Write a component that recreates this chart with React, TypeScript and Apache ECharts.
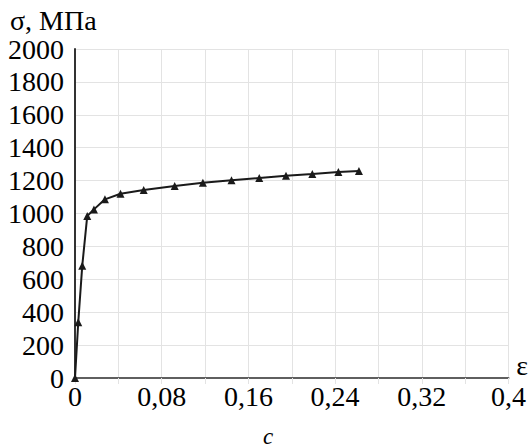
import React, { useEffect, useRef } from "react";
import * as echarts from "echarts";

const strain = [0, 0.003, 0.0067, 0.0113, 0.0175, 0.0276, 0.042, 0.0634, 0.092, 0.118, 0.1444, 0.17, 0.1947, 0.219, 0.243, 0.262];
const stress = [0, 339, 683, 985, 1025, 1086, 1120, 1143, 1167, 1187, 1202, 1216, 1230, 1240, 1252, 1258];
const xTicks = [0, 0.08, 0.16, 0.24, 0.32, 0.4];
const FONT = "Liberation Serif";

export default function App() {
  const ref = useRef<HTMLDivElement>(null);
  useEffect(() => {
    const chart = echarts.init(ref.current!, null, { renderer: "svg" });
    const fmtX = (v: number) => {
      const hit = xTicks.find((t) => Math.abs(t - v) < 1e-6);
      if (hit === undefined) return "";
      return "{a|" + String(Number(hit.toFixed(2))).replace(".", ",") + "}";
    };
    const rich = { a: { fontFamily: FONT, fontSize: 28, color: "#000" } };
    chart.setOption({
      animation: false,
      backgroundColor: "#fff",
      textStyle: { fontFamily: FONT, fontSize: 28, color: "#000" },
      grid: { left: 75, right: 19, top: 49, bottom: 70, containLabel: false },
      xAxis: {
        type: "value",
        min: 0,
        max: 0.4,
        interval: 0.04,
        axisLine: { show: true, onZero: false, lineStyle: { color: "#5f5f5f", width: 2 } },
        axisTick: { show: true, length: 6, lineStyle: { color: "#e3e3e3" } },
        splitLine: { show: true, lineStyle: { color: "#e3e3e3", width: 1 } },
        axisLabel: {
          formatter: fmtX,
          rich,
          color: "#000",
          fontFamily: FONT,
          fontSize: 28,
          margin: 4,
          showMaxLabel: true,
          showMinLabel: true,
        },
      },
      yAxis: {
        type: "value",
        min: 0,
        max: 2000,
        interval: 200,
        axisLine: { show: true, onZero: false, lineStyle: { color: "#333", width: 2 } },
        axisTick: { show: false },
        splitLine: { show: true, lineStyle: { color: "#e3e3e3", width: 1 } },
        axisLabel: {
          formatter: (v: number) => "{a|" + String(v) + "}",
          rich,
          color: "#000",
          fontFamily: FONT,
          fontSize: 28,
          margin: 11,
        },
      },
      graphic: [
        { type: "text", x: 10, y: 20, style: { text: "σ, МПа", fontFamily: FONT, fontSize: 28, fill: "#000", textAlign: "left", textVerticalAlign: "middle" } },
        { type: "text", x: 522, y: 365, style: { text: "ε", fontFamily: FONT, fontSize: 28, fill: "#000", textAlign: "center", textVerticalAlign: "middle" } },
        { type: "text", x: 268, y: 436, style: { text: "c", fontFamily: FONT, fontSize: 23, fontStyle: "italic", fill: "#000", textAlign: "center", textVerticalAlign: "middle" } },
      ],
      series: [
        {
          type: "line",
          data: strain.map((e, i) => [e, stress[i]]),
          symbol: "triangle",
          symbolSize: 8,
          showAllSymbol: true,
          lineStyle: { color: "#1a1a1a", width: 2 },
          itemStyle: { color: "#1a1a1a" },
        },
      ],
    });
    return () => chart.dispose();
  }, []);
  return <div ref={ref} style={{ width: 529, height: 448, position: "absolute", left: 0, top: 0 }} />;
}
